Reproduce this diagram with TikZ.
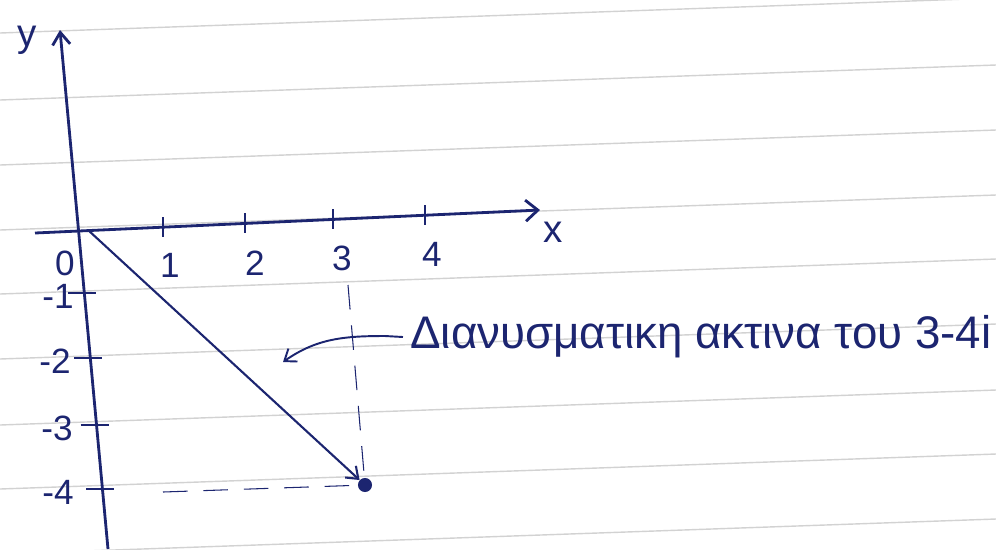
\documentclass[tikz,border=0pt]{standalone}
\usepackage{fontspec}
\setmainfont{Liberation Sans}
\usetikzlibrary{arrows.meta}
\definecolor{ink}{HTML}{1C2570}
\begin{document}
\begin{tikzpicture}[x=0.02cm,y=-0.02cm,
    ink line/.style={ink, line width=1.6pt},
    tick label/.style={ink, font=\fontsize{20}{22}\selectfont},
    guide/.style={ink, line width=0.6pt, dash pattern=on 14pt off 9pt}]
    \useasboundingbox (0,0) rectangle (996,549);
    \clip (0,0) rectangle (996,549);

    % ruled paper
    \foreach \y in {33,100,165,230,294,359,425,489,554}{
        \draw[gray!35, line width=0.8pt] (0,\y) -- (996,\y-35);
    }

    % axes
    \coordinate (O) at (88,230);
    \draw[ink line, -{Straight Barb[length=7pt,width=10pt]}] (108,549) -- (60,30);
    \draw[ink line, -{Straight Barb[length=7pt,width=12pt]}] (35,233) -- (540,210);
    \node[ink, font=\fontsize{22}{24}\selectfont] (ylab) at (27,40) {y};
    \node[ink, font=\fontsize{22}{24}\selectfont] (xlab) at (553,232) {x};
    \node[tick label] (zero) at (65,263) {0};

    \foreach \x/\ty/\lx/\ly/\lab in {163/227/170/265/1, 245/223.4/255/263/2,
                                      333/219.4/342/258/3, 425/215.2/432/254/4}{
        \draw[ink line] (\x,\ty-10) -- (\x,\ty+10);
        \node[tick label] (x\lab) at (\lx,\ly) {\lab};
    }
    \foreach \yy/\ax/\lx/\lab in {293/84.3/58/1, 358/90.3/55/2, 425/96.5/57/3, 489/102.4/58/4}{
        \draw[ink line] (\ax-16,\yy) -- (\ax+12,\yy);
        \node[tick label] (y\lab) at (\lx,\yy+3) {-\lab};
    }

    % the point 3-4i and its vector
    \node[circle, fill=ink, inner sep=0pt, minimum size=8pt] (P) at (365,485) {};
    \draw[ink, line width=1.2pt, -{Straight Barb[length=6pt,width=9pt]}] (O) -- (P);
    \coordinate (t3) at (348,285);
    \coordinate (m4) at (163,492);
    \draw[guide] (t3) -- (P);
    \draw[guide] (m4) -- (P);

    % label with pointer
    \node[ink, anchor=west, inner sep=0pt, font=\fontsize{26}{28}\selectfont]
        (lbl) at (410,337) {Διανυσματικη ακτινα του 3-4i};
    \coordinate (ptr) at (283,362);
    \draw[ink, line width=1.1pt, -{Straight Barb[length=6pt,width=9pt]}]
        ([xshift=-4pt]lbl.west) -- (385,336) to[out=180, in=35] (ptr);
\end{tikzpicture}
\end{document}
